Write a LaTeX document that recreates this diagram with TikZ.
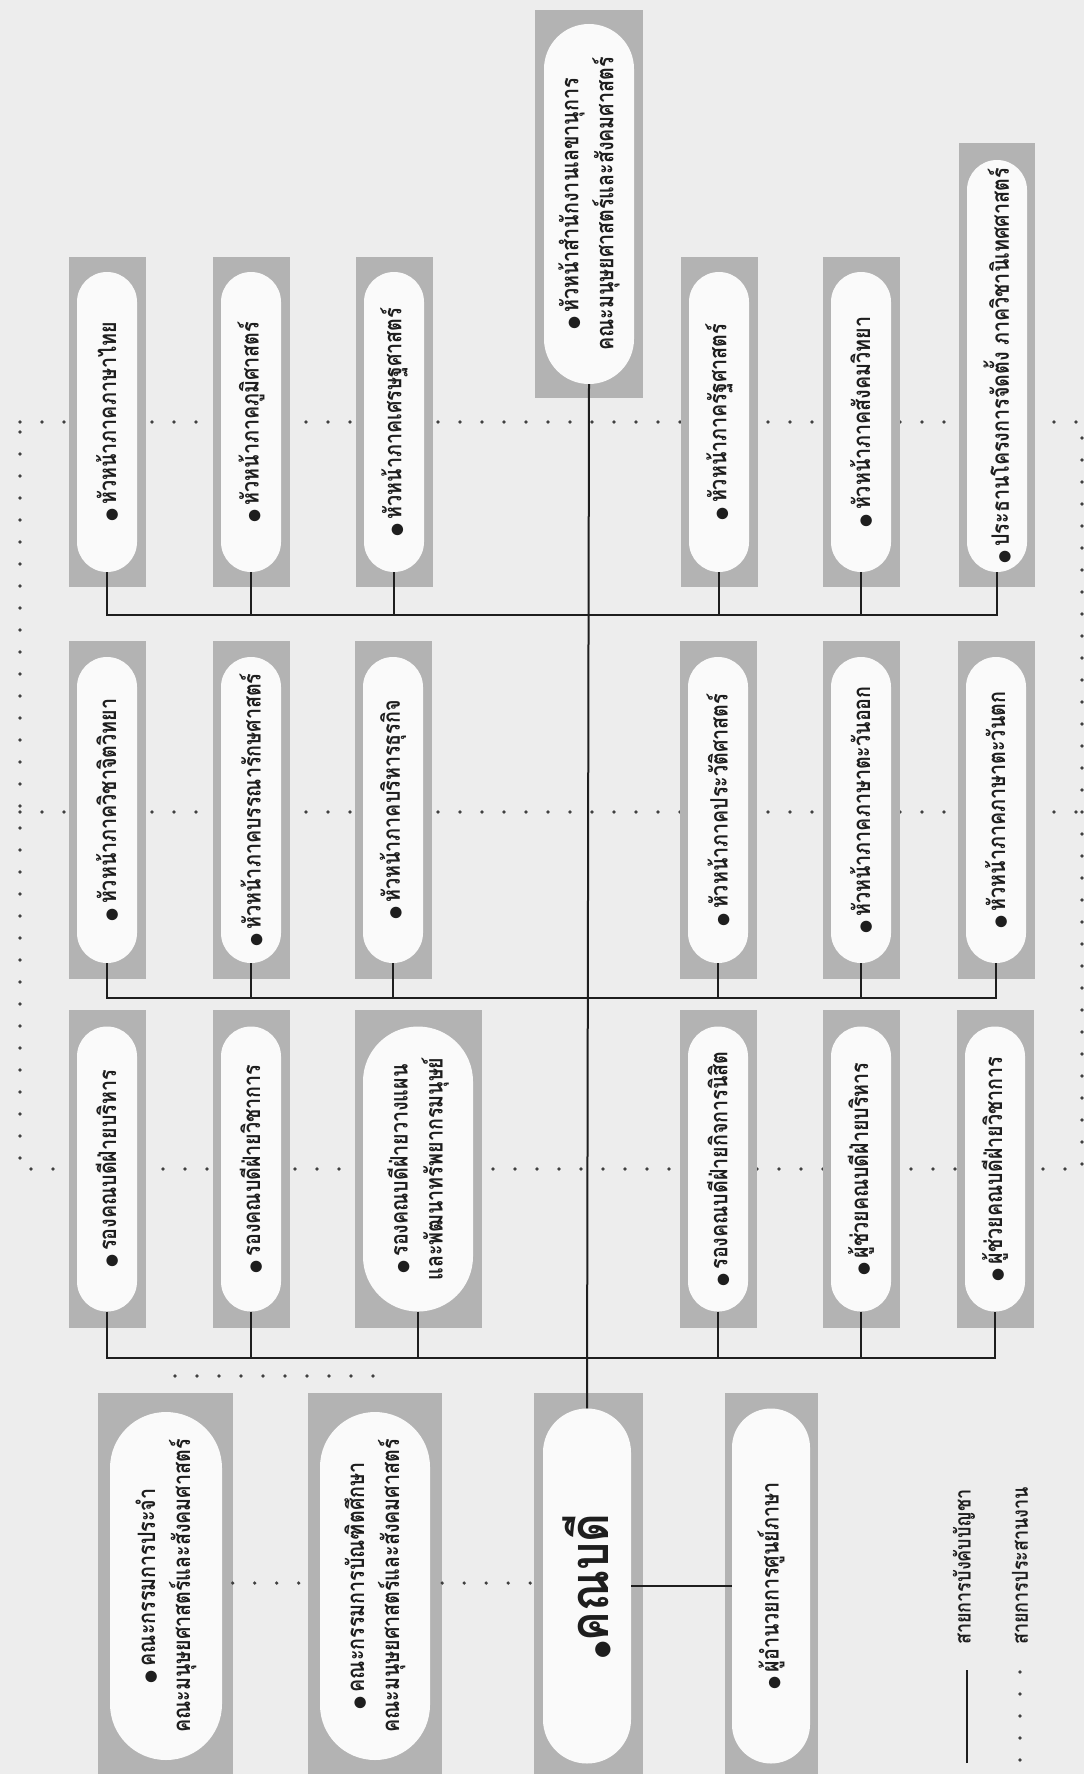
\documentclass[tikz,border=0pt]{standalone}
\usepackage{fontspec}
\usepackage{tikz}
\usetikzlibrary{calc}
\newfontfamily\thai[Script=Thai, FakeStretch=0.82]{Loma}
\newfontfamily\symb{DejaVu Sans}
\definecolor{paper}{HTML}{EDEDED}
\definecolor{boxgray}{HTML}{B3B3B3}
\definecolor{pillwhite}{HTML}{FAFAFA}
\definecolor{ink}{HTML}{1E1E1E}
\newcommand{\bul}{{\symb\fontsize{15}{15}\selectfont ●}\,}
\tikzset{
  gbox/.style={rectangle, fill=boxgray, inner sep=0pt},
  pill/.style={rectangle, rounded corners=#1, fill=pillwhite, rotate=90,
               inner sep=0pt, minimum height=2*#1, align=center, text=ink,
               font=\thai\fontsize{24}{35}\selectfont\bfseries},
  pill/.default=30,
  org/.style={draw=ink, line width=2.4pt},
  coordline/.style={draw=ink!85, line width=3.6pt, line cap=round,
                    dash pattern=on 0pt off 22pt},
  lbl/.style={rotate=90, anchor=west, inner sep=0pt, text=ink,
              font=\thai\fontsize{22}{26}\selectfont\bfseries},
}

\begin{document}
\begin{tikzpicture}[x=1pt, y=-1pt]
\useasboundingbox (0,0) rectangle (1084,1774);
\fill[paper] (0,0) rectangle (1084,1774);

% coordination lines
\coordinate (dA) at (20,422);   \coordinate (dB) at (1082,422);
\coordinate (dC) at (20,1169);  \coordinate (dD) at (1082,1169);
\coordinate (dE) at (20,812);   \coordinate (dF) at (1082,812);
\coordinate (dG) at (175,1376); \coordinate (dH) at (382,1376);
\draw[coordline] (dA) -- (dB) -- (dD) -- (dC) -- cycle;
\draw[coordline] (dE) -- (dF);
\draw[coordline] (dG) -- (dH);

% office
\node[gbox, minimum width=108, minimum height=387] (offg) at (589,204) {};
\node[pill=45, minimum width=360] (off) at (589,204)
  {\bul หัวหน้าสำนักงานเลขานุการ\\คณะมนุษยศาสตร์และสังคมศาสตร์};

% row 1
\foreach \nm/\x/\txt in {ra1/107/หัวหน้าภาคภาษาไทย, ra2/251/หัวหน้าภาคภูมิศาสตร์,
    ra3/394/หัวหน้าภาคเศรษฐศาสตร์, ra4/719/หัวหน้าภาครัฐศาสตร์,
    ra5/861/หัวหน้าภาคสังคมวิทยา}{
  \node[gbox, minimum width=77, minimum height=330] (\nm g) at (\x,422) {};
  \node[pill, minimum width=300] (\nm) at (\x,422) {\bul\txt};
}
\node[gbox, minimum width=76, minimum height=444] (ra6g) at (997,365) {};
\node[pill, minimum width=412] (ra6) at (997,366)
  {\bul ประธานโครงการจัดตั้ง ภาควิชานิเทศศาสตร์};

% row 2
\foreach \nm/\x/\txt in {rb1/107/หัวหน้าภาควิชาจิตวิทยา, rb2/251/หัวหน้าภาคบรรณารักษศาสตร์,
    rb3/393/หัวหน้าภาคบริหารธุรกิจ, rb4/718/หัวหน้าภาคประวัติศาสตร์,
    rb5/861/หัวหน้าภาคภาษาตะวันออก, rb6/996/หัวหน้าภาคภาษาตะวันตก}{
  \node[gbox, minimum width=77, minimum height=338] (\nm g) at (\x,810) {};
  \node[pill, minimum width=306] (\nm) at (\x,810) {\bul\txt};
}

% row 3
\foreach \nm/\x/\txt in {rc1/107/รองคณบดีฝ่ายบริหาร, rc2/251/รองคณบดีฝ่ายวิชาการ,
    rc4/718/รองคณบดีฝ่ายกิจการนิสิต, rc5/861/ผู้ช่วยคณบดีฝ่ายบริหาร,
    rc6/995/ผู้ช่วยคณบดีฝ่ายวิชาการ}{
  \node[gbox, minimum width=77, minimum height=318] (\nm g) at (\x,1169) {};
  \node[pill, minimum width=285] (\nm) at (\x,1169) {\bul\txt};
}
\node[gbox, minimum width=127, minimum height=318] (rc3g) at (418,1169) {};
\node[pill=55, minimum width=285] (rc3) at (418,1169)
  {\bul รองคณบดีฝ่ายวางแผน\\และพัฒนาทรัพยากรมนุษย์};

% bottom row
\node[gbox, minimum width=135, minimum height=381] (cm1g) at (165,1583) {};
\node[pill=56, minimum width=348] (cm1) at (166,1586)
  {\bul คณะกรรมการประจำ\\คณะมนุษยศาสตร์และสังคมศาสตร์};
\node[gbox, minimum width=134, minimum height=381] (cm2g) at (375,1583) {};
\node[pill=55, minimum width=348] (cm2) at (375,1586)
  {\bul คณะกรรมการบัณฑิตศึกษา\\คณะมนุษยศาสตร์และสังคมศาสตร์};
\node[gbox, minimum width=109, minimum height=381] (deang) at (588,1583) {};
\node[pill=44, minimum width=355, font=\thai\fontsize{54}{60}\selectfont\bfseries]
  (dean) at (587,1586) {{\symb\fontsize{20}{20}\selectfont ●}คณบดี};
\node[gbox, minimum width=93, minimum height=381] (dirg) at (771,1583) {};
\node[pill=39, minimum width=355] (dir) at (771,1586) {\bul ผู้อำนวยการศูนย์ภาษา};

\draw[coordline] (cm1g.east) -- (cm2g.west);
\draw[coordline] (cm2g.east) -- (deang.west);

% line of command
\coordinate (bar1) at (588,615);
\coordinate (bar2) at (588,998);
\coordinate (bar3) at (588,1358);
\draw[org] (ra1.west) -- (ra1.west |- bar1) -| (ra6.west);
\foreach \nm in {ra2,ra3,ra4,ra5} \draw[org] (\nm.west) -- (\nm.west |- bar1);
\draw[org] (rb1.west) -- (rb1.west |- bar2) -| (rb6.west);
\foreach \nm in {rb2,rb3,rb4,rb5} \draw[org] (\nm.west) -- (\nm.west |- bar2);
\draw[org] (rc1.west) -- (rc1.west |- bar3) -| (rc6.west);
\foreach \nm in {rc2,rc3,rc4,rc5} \draw[org] (\nm.west) -- (\nm.west |- bar3);
\draw[org, line width=2pt] (off.west) -- (dean.east);
\draw[org, line width=2pt] (dean.south) -- (dir.north);

% legend
\coordinate (lgA) at (967,1763); \coordinate (lgB) at (967,1670);
\coordinate (lgC) at (1020,1760); \coordinate (lgD) at (1020,1670);
\draw[org, line width=2pt] (lgA) -- (lgB);
\draw[coordline] (lgC) -- (lgD);
\node[lbl] (lgAt) at (964,1645) {สายการบังคับบัญชา};
\node[lbl] (lgCt) at (1020,1645) {สายการประสานงาน};
\end{tikzpicture}
\end{document}
